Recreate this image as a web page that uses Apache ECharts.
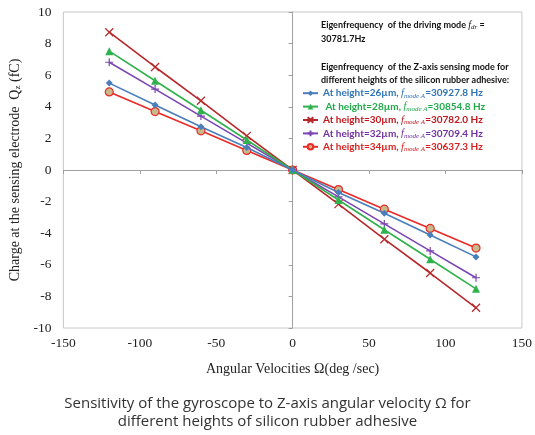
<!DOCTYPE html>
<html><head><meta charset="utf-8">
<script src="https://cdn.jsdelivr.net/npm/echarts@6/dist/echarts.min.js"></script>
<style>html,body{margin:0;padding:0;background:#fff}#c{width:535px;height:435px}</style>
</head><body><div id="c"></div>
<script>
const angles = [-120, -90, -60, -30, 0, 30, 60, 90, 120];
const h26 = [5.50, 4.11, 2.74, 1.42, 0, -1.42, -2.74, -4.11, -5.50];
const h28 = [7.52, 5.65, 3.78, 1.90, 0, -1.90, -3.78, -5.65, -7.52];
const h30 = [8.72, 6.52, 4.38, 2.16, 0, -2.16, -4.38, -6.52, -8.72];
const h32 = [6.82, 5.12, 3.41, 1.70, 0, -1.70, -3.41, -5.12, -6.82];
const h34 = [4.94, 3.70, 2.48, 1.24, 0, -1.24, -2.48, -3.70, -4.94];
const seriesNames = ['h26', 'h28', 'h30', 'h32', 'h34'];
const heights = ['26', '28', '30', '32', '34'];
const freqs = ['30927.8', '30854.8', '30782.0', '30709.4', '30637.3'];
const xTicks = [-150, -100, -50, 0, 50, 100, 150];
const yTicks = [-10, -8, -6, -4, -2, 0, 2, 4, 6, 8, 10];

const colors = ['#4a7ebb', '#2fb24c', '#b8282a', '#7b45b3', '#ea2a26'];
const textColors = ['#2e74b5', '#1faa4a', '#c0161c', '#7030a0', '#d81e1e'];
const symbols = ['diamond', 'triangle', 'path://M0,0L10,10M10,0L0,10', 'path://M5,0L5,10M0,5L10,5', 'circle'];
const symSizes = [7, 8, 8, 8, 8];
const datas = [h26, h28, h30, h32, h34];

const series = datas.map((d, i) => ({
  name: seriesNames[i],
  type: 'line',
  data: angles.map((a, j) => [a, d[j]]),
  symbol: symbols[i],
  symbolSize: symSizes[i],
  showSymbol: true,
  z: 10 - i,
  lineStyle: { color: colors[i], width: 1.6 },
  itemStyle: i === 4
    ? { color: '#c9b98a', borderColor: colors[i], borderWidth: 1.2 }
    : (i === 2 || i === 3)
      ? { color: colors[i], borderColor: colors[i], borderWidth: 1.2 }
      : { color: colors[i], borderWidth: 0 },
  emphasis: { disabled: true },
  animation: false
}));

const LF = 'Lato';
const legendData = seriesNames.map((n, i) => ({
  name: n,
  textStyle: {
    color: textColors[i],
    rich: {
      t: { color: textColors[i], fontFamily: LF, fontWeight: 'bold', fontSize: 10 },
      f: { color: textColors[i], fontFamily: 'Liberation Serif', fontStyle: 'italic', fontSize: 10.5 },
      s: { color: textColors[i], fontFamily: 'Liberation Serif', fontStyle: 'italic', fontSize: 7, padding: [5, 0, 0, 0] }
    }
  }
}));

const chart = echarts.init(document.getElementById('c'));
chart.setOption({
  animation: false,
  grid: { left: 60, right: 13, top: 12, bottom: 107, show: true, borderColor: '#c8c8c8', borderWidth: 1 },
  xAxis: [{
    type: 'value', min: -150, max: 150, interval: 50,
    axisLine: { onZero: false, show: false },
    axisTick: { show: false },
    splitLine: { show: false },
    axisLabel: { color: '#222', fontFamily: 'Liberation Serif', fontSize: 13.5, margin: 8 },
    name: 'Angular Velocities Ω(deg /sec)',
    nameLocation: 'middle', nameGap: 34,
    nameTextStyle: { color: '#222', fontFamily: 'Liberation Serif', fontSize: 14 }
  }, {
    type: 'value', min: -150, max: 150, interval: 50, position: 'bottom',
    axisLine: { onZero: true, lineStyle: { color: '#a0a0a0', width: 1 } },
    axisTick: { show: true, inside: false, length: 4, lineStyle: { color: '#a0a0a0' } },
    axisLabel: { show: false }, splitLine: { show: false }
  }],
  yAxis: {
    type: 'value', min: -10, max: 10, interval: 2,
    axisLine: { show: true, lineStyle: { color: '#a0a0a0' } },
    axisTick: { show: true, length: 4, lineStyle: { color: '#a0a0a0' } },
    splitLine: { show: false },
    axisLabel: { color: '#222', fontFamily: 'Liberation Serif', fontSize: 13.5, margin: 12 },
    name: '{a|Charge at the sensing electrode  Q}{b|z}{a| (fC)}',
    nameLocation: 'middle', nameGap: 35, nameRotate: 90,
    nameTextStyle: {
      rich: {
        a: { color: '#222', fontFamily: 'Liberation Serif', fontSize: 14 },
        b: { color: '#222', fontFamily: 'Liberation Serif', fontSize: 9, padding: [6, 0, 0, 0] }
      }
    }
  },
  legend: {
    orient: 'vertical', left: 297, top: 82,
    itemWidth: 15, itemHeight: 7, itemGap: 1,
    data: legendData,
    selectedMode: false,
    formatter: function (name) {
      const i = seriesNames.indexOf(name);
      const pre = i === 1 ? ' At height=' : 'At height=';
      return '{t|' + pre + heights[i] + 'µm, }{f|f}{s|mode A}{t|=' + freqs[i] + ' Hz}';
    },
    textStyle: { fontSize: 10, lineHeight: 12.4 }
  },
  graphic: [
    { type: 'text', left: 321, top: 20, style: { rich: {
        t: { fontFamily: LF, fontWeight: 'bold', fontSize: 9, fill: '#111' },
        f: { fontFamily: 'Liberation Serif', fontStyle: 'italic', fontSize: 10, fill: '#111' },
        s: { fontFamily: 'Liberation Serif', fontStyle: 'italic', fontSize: 7, fill: '#111', padding: [5, 0, 0, 0] } },
        text: '{t|Eigenfrequency  of the driving mode }{f|f}{s|dr}{t| =}' } },
    { type: 'text', left: 321, top: 35, style: { text: '30781.7Hz', fontFamily: LF, fontWeight: 'bold', fontSize: 9, fill: '#111' } },
    { type: 'text', left: 321, top: 60, style: { text: 'Eigenfrequency  of the Z-axis sensing mode for\ndifferent heights of the silicon rubber adhesive:', fontFamily: LF, fontWeight: 'bold', fontSize: 9, lineHeight: 13.5, fill: '#111' } },
    { type: 'text', left: 'center', top: 396, style: { text: 'Sensitivity of the gyroscope to Z-axis angular velocity Ω for', fontFamily: 'Open Sans', fontSize: 15, fill: '#333' } },
    { type: 'text', left: 'center', top: 414, style: { text: 'different heights of silicon rubber adhesive', fontFamily: 'Open Sans', fontSize: 15, fill: '#333' } }
  ],
  series: series
});
</script></body></html>
